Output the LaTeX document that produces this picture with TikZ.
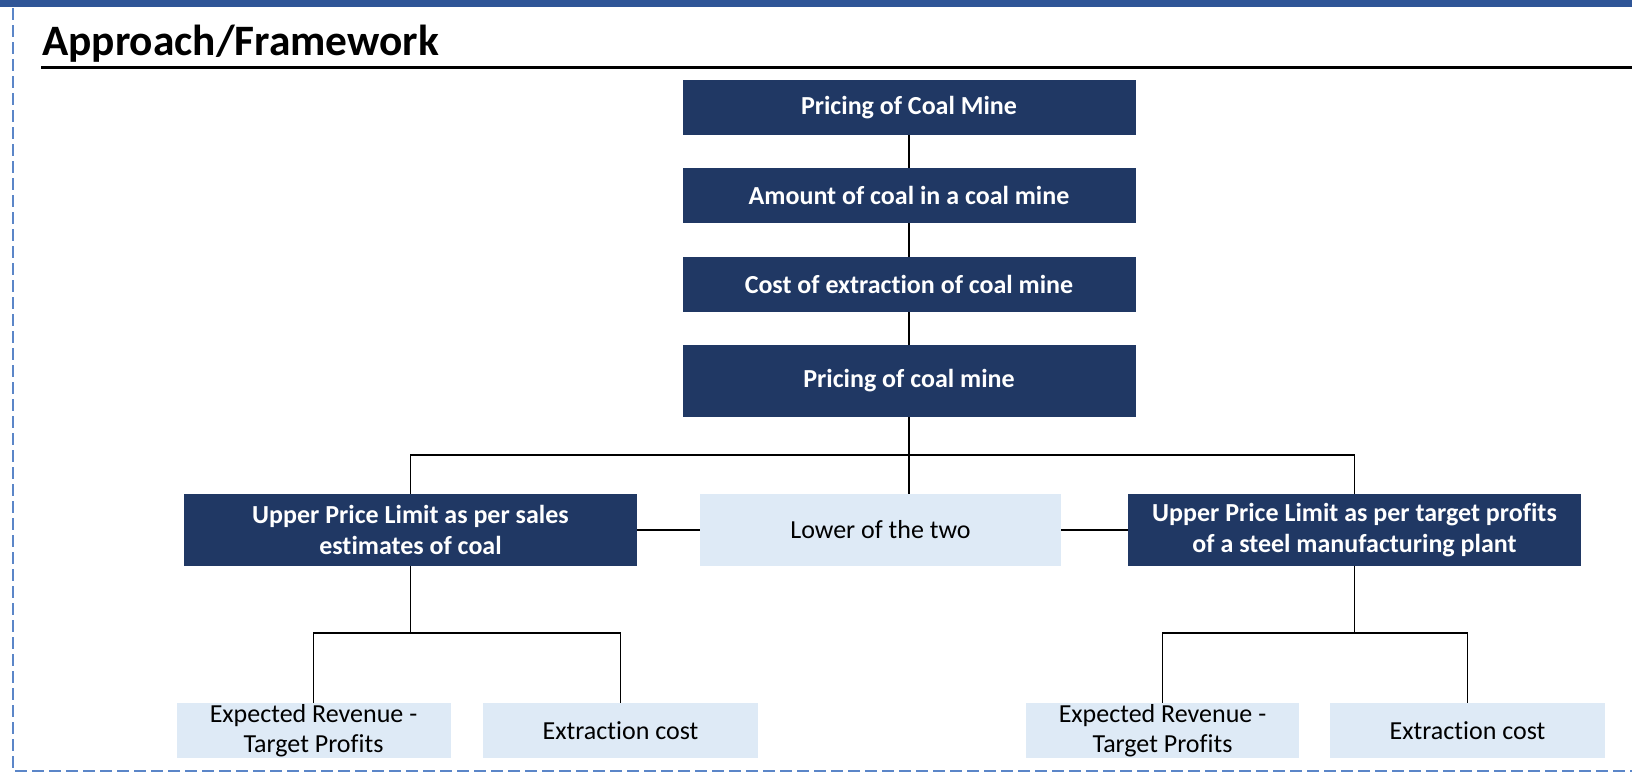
\documentclass[tikz,border=0pt]{standalone}
\usepackage{fontspec}
\setmainfont{Carlito}[Ligatures=NoCommon]
\definecolor{navy}{HTML}{203864}
\definecolor{pale}{HTML}{DEEAF6}
\definecolor{topbar}{HTML}{2F5597}
\definecolor{dashblue}{HTML}{5B86C8}
\begin{document}
\begin{tikzpicture}[x=1pt,y=-1pt,
  darkbox/.style={fill=navy,text=white,font=\fontsize{26}{31}\selectfont\bfseries,
    inner sep=0pt,align=center,minimum width=453pt},
  lightbox/.style={fill=pale,text=black,font=\fontsize{26}{30}\selectfont,
    inner sep=0pt,align=center},
  conn/.style={draw=black,line width=1.2pt}]
\useasboundingbox (0,0) rectangle (1632,774);
% frame
\fill[topbar] (0,0) rectangle (1632,7);
\draw[dashblue,line width=1.8pt,dash pattern=on 12pt off 5pt] (13,8) -- (13,771) -- (1632,771);
\node[anchor=base west,inner sep=0pt,font=\fontsize{43.4}{50}\selectfont\bfseries] (title) at (42,55) {Approach/Framework};
\draw[black,line width=3pt] (41,67) -- (1632,67);
% main column
\node[darkbox,minimum height=55pt] (b1) at (909,107.5) {Pricing of Coal Mine};
\node[darkbox,minimum height=55pt] (b2) at (909,195.5) {Amount of coal in a coal mine};
\node[darkbox,minimum height=55pt] (b3) at (909,284.5) {Cost of extraction of coal mine};
\node[darkbox,minimum height=72pt] (b4) at (909,381) {Pricing of coal mine};
% second level
\node[darkbox,minimum height=72pt] (L) at (410.5,530) {Upper Price Limit as per sales\\estimates of coal};
\node[lightbox,minimum width=361pt,minimum height=72pt] (M) at (880.5,530) {Lower of the two};
\node[darkbox,minimum height=72pt] (R) at (1354.5,530) {Upper Price Limit as per target profits\\of a steel manufacturing plant};
% third level
\node[lightbox,minimum width=274pt,minimum height=55pt] (LL1) at (313.5,730.5) {Expected Revenue -\\Target Profits};
\node[lightbox,minimum width=275pt,minimum height=55pt] (LL2) at (620.5,730.5) {Extraction cost};
\node[lightbox,minimum width=273pt,minimum height=55pt] (RR1) at (1162.5,730.5) {Expected Revenue -\\Target Profits};
\node[lightbox,minimum width=275pt,minimum height=55pt] (RR2) at (1467.5,730.5) {Extraction cost};
% connectors
\coordinate (bus) at (909,455);
\coordinate (lb) at (410.5,633);
\coordinate (rb) at (1354.5,633);
\draw[conn] (b1.south) -- (b2.north);
\draw[conn] (b2.south) -- (b3.north);
\draw[conn] (b3.south) -- (b4.north);
\draw[conn] (b4.south) -- (b4.south |- M.north);
\draw[conn] (L.north) |- (bus) -| (R.north);
\draw[conn] (L.east) -- (M.west);
\draw[conn] (M.east) -- (R.west);
\draw[conn] (L.south) -- (lb);
\draw[conn] (LL1.north) |- (lb) -| (LL2.north);
\draw[conn] (R.south) -- (rb);
\draw[conn] (RR1.north) |- (rb) -| (RR2.north);
\end{tikzpicture}
\end{document}
